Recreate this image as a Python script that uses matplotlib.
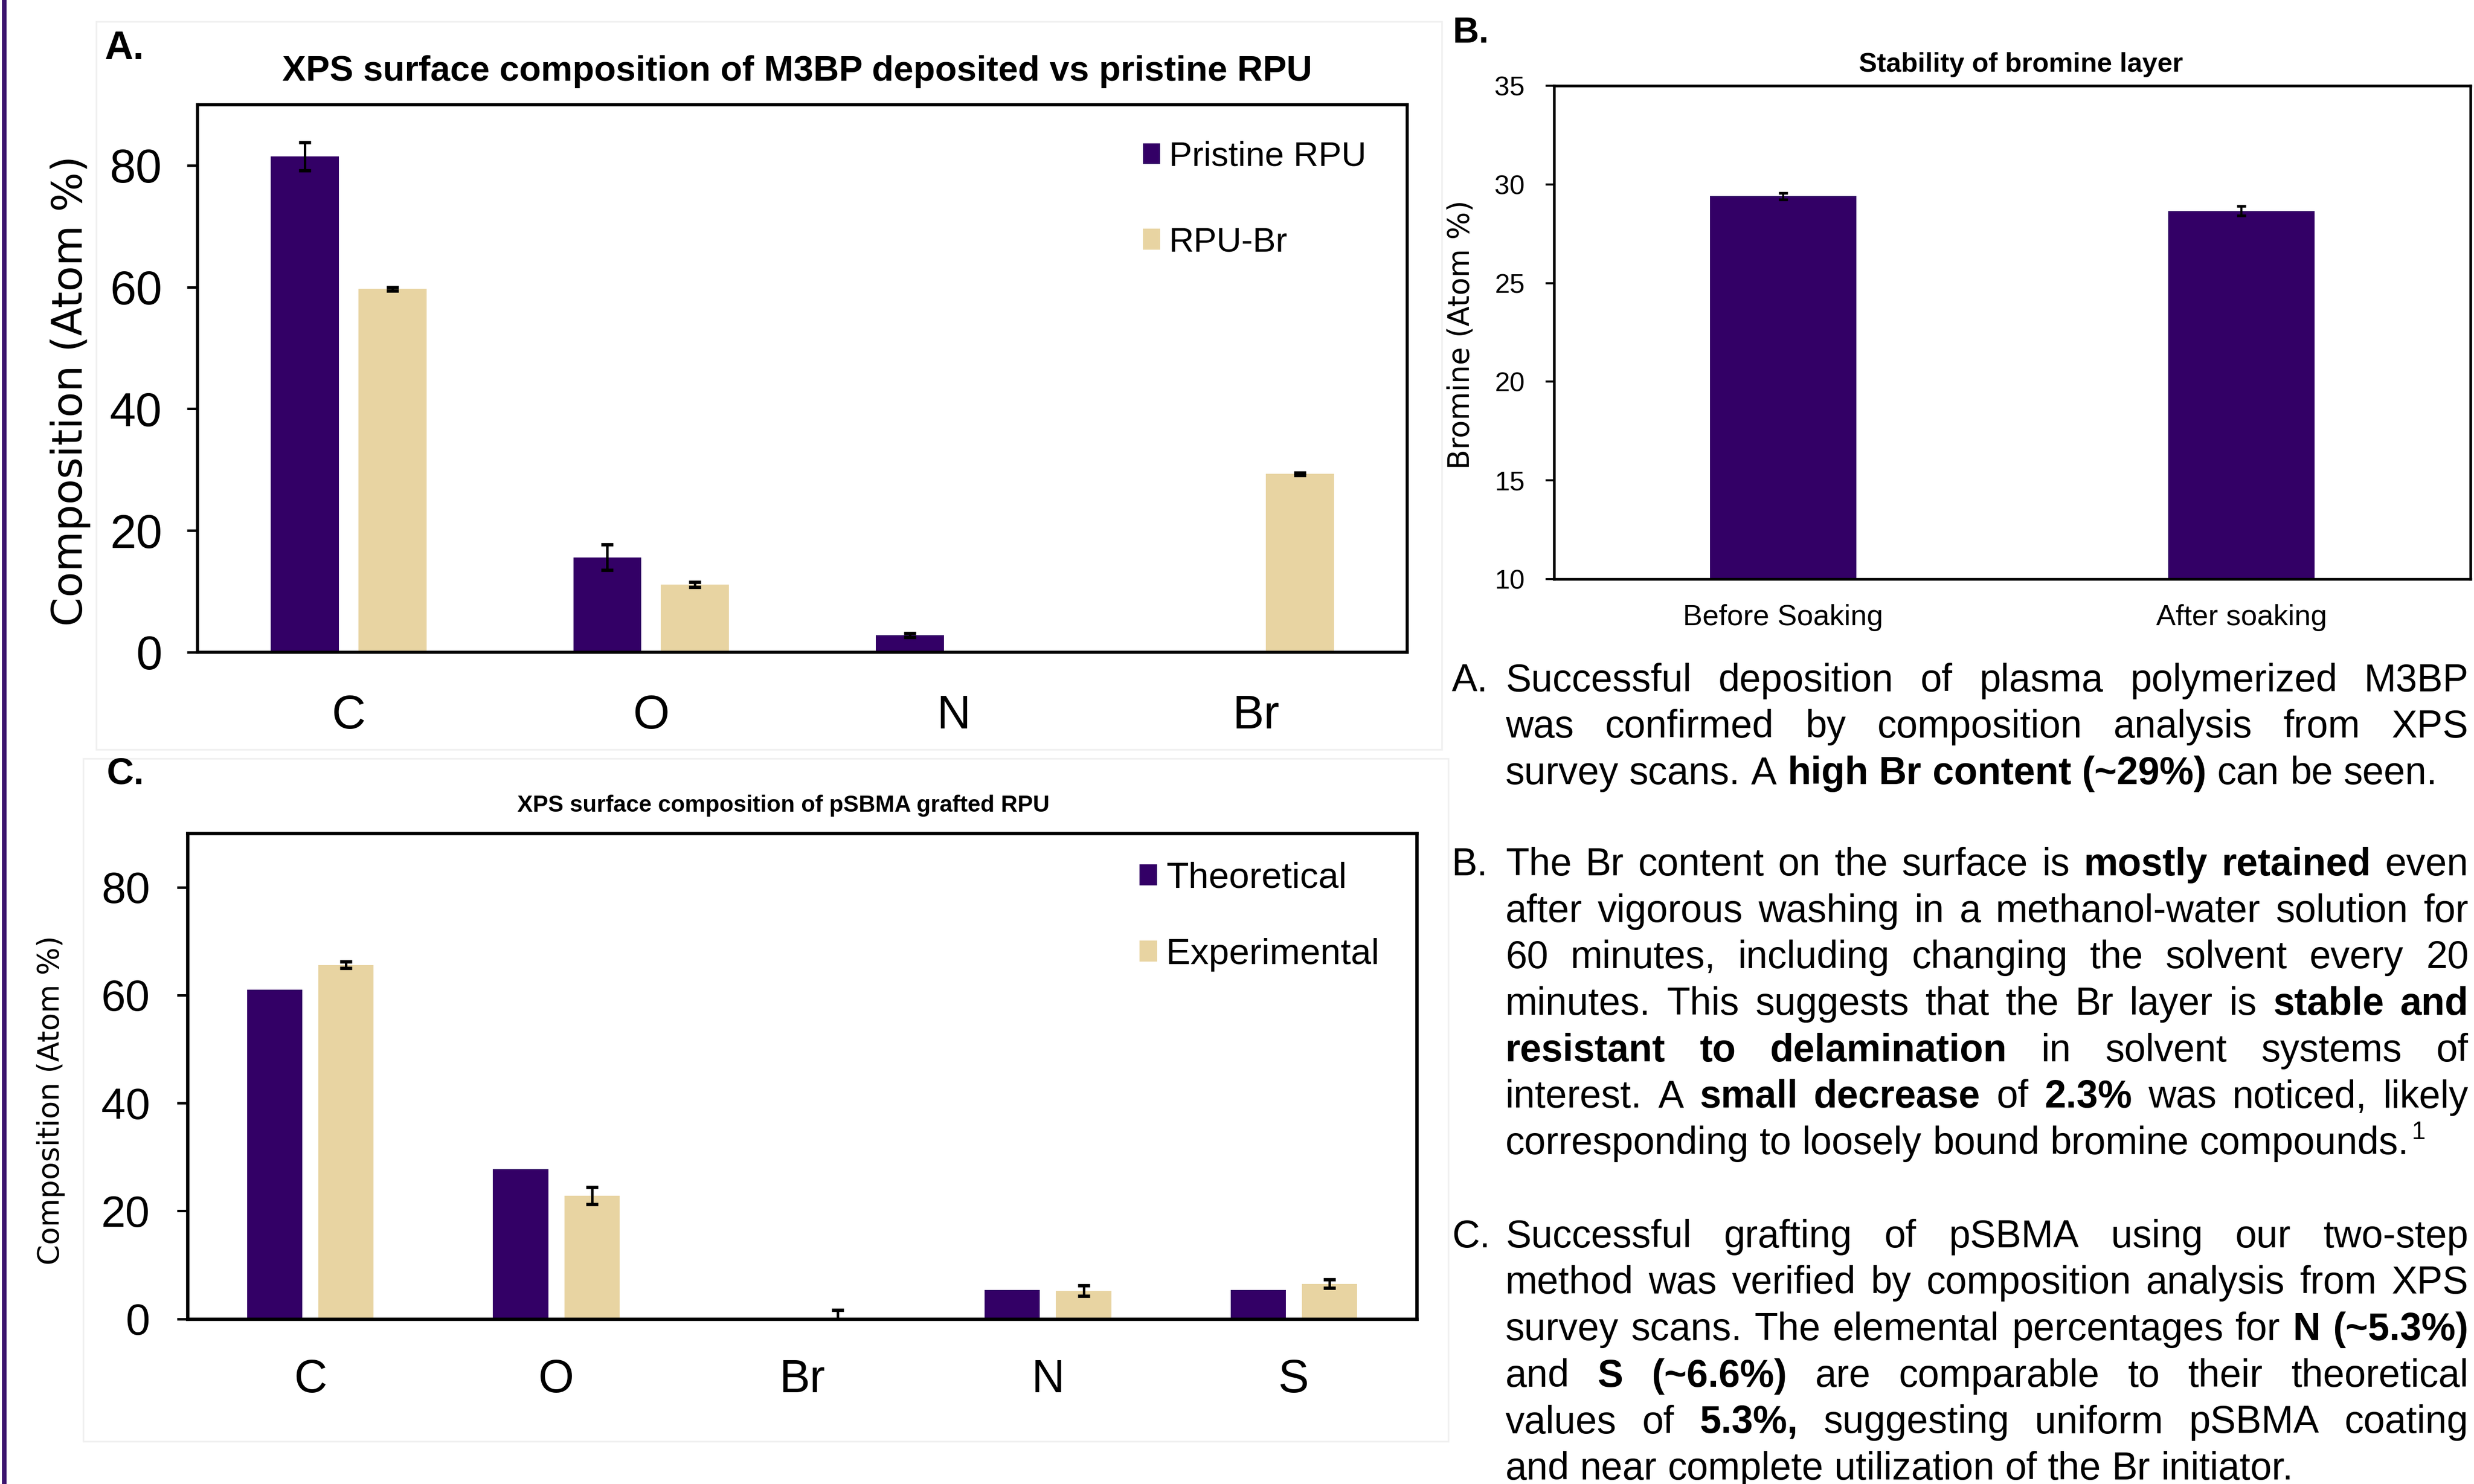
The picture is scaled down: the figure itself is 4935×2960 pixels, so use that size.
import numpy as np
import matplotlib
matplotlib.use('Agg')
import matplotlib.pyplot as plt
from matplotlib.patches import Rectangle
from matplotlib.lines import Line2D

# ---------------- data ----------------
A_categories = ['C', 'O', 'N', 'Br']
A_series = ['Pristine RPU', 'RPU-Br']
A_pristine = [81.5, 15.6, 2.8, 0.0]
A_pristine_err = [2.3, 2.1, 0.3, 0.0]
A_rpubr = [59.7, 11.1, 0.0, 29.3]
A_rpubr_err = [0.3, 0.4, 0.0, 0.2]
A_yticks = [0, 20, 40, 60, 80]

B_categories = ['Before Soaking', 'After soaking']
B_bromine = [29.4, 28.66]
B_bromine_err = [0.17, 0.24]
B_yticks = [10, 15, 20, 25, 30, 35]

C_categories = ['C', 'O', 'Br', 'N', 'S']
C_series = ['Theoretical', 'Experimental']
C_theoretical = [61.0, 27.7, 0.0, 5.3, 5.3]
C_theoretical_err = [0.0, 0.0, 0.0, 0.0, 0.0]
C_experimental = [65.6, 22.8, 0.0, 5.2, 6.5]
C_experimental_err = [0.6, 1.6, 1.6, 1.0, 0.8]
C_yticks = [0, 20, 40, 60, 80]

TITLE_A = 'XPS surface composition of M3BP deposited vs pristine RPU'
TITLE_B = 'Stability of bromine layer'
TITLE_C = 'XPS surface composition of pSBMA grafted RPU'

TEXT_A = ["Successful deposition of plasma polymerized M3BP",
          "was confirmed by composition analysis from XPS",
          "survey scans. A **high Br content (~29%)** can be seen."]
TEXT_B = ["The Br content on the surface is **mostly retained** even",
          "after vigorous washing in a methanol-water solution for",
          "60 minutes, including changing the solvent every 20",
          "minutes. This suggests that the Br layer is **stable and**",
          "**resistant to delamination** in solvent systems of",
          "interest. A **small decrease** of **2.3%** was noticed, likely",
          "corresponding to loosely bound bromine compounds."]
TEXT_C = ["Successful grafting of pSBMA using our two-step",
          "method was verified by composition analysis from XPS",
          "survey scans. The elemental percentages for **N (~5.3%)**",
          "and **S (~6.6%)** are comparable to their theoretical",
          "values of **5.3%,** suggesting uniform pSBMA coating",
          "and near complete utilization of the Br initiator."]

# ---------------- style ----------------
W, H = 4935, 2960
DPI = 300
SANS = 'Liberation Sans'
ROUND = 'DejaVu Sans'
PURPLE = '#330066'
TAN = '#e8d4a2'
plt.rcParams['font.family'] = [SANS, 'DejaVu Sans']

fig = plt.figure(figsize=(W / DPI, H / DPI), dpi=DPI)
fig.patch.set_facecolor('white')


def rect(l, t, r, b):
    return [l / W, 1 - b / H, (r - l) / W, (b - t) / H]


def fx(x):
    return x / W


def fy(y):
    return 1 - y / H


def style_axes(ax, lw):
    for s in ax.spines.values():
        s.set_linewidth(lw)
        s.set_color('black')


def grouped(ax, cats, s1, s2, e1, e2, labels):
    x = np.arange(len(cats))
    w, off = 0.225, 0.145
    ax.bar(x - off, s1, w, color=PURPLE, label=labels[0], zorder=1)
    ax.bar(x + off, s2, w, color=TAN, label=labels[1], zorder=1)
    for xs, v, e in ((x - off, s1, e1), (x + off, s2, e2)):
        v = np.asarray(v, float)
        e = np.asarray(e, float)
        m = e > 0
        if m.any():
            ax.errorbar(xs[m], v[m], yerr=e[m], fmt='none', ecolor='black',
                        elinewidth=1.2, capsize=2.8, capthick=1.6, zorder=3)
    ax.set_xticks(x)
    ax.set_xticklabels(cats)
    ax.set_xlim(-0.5, len(cats) - 0.5)


# ---------------- decorations ----------------
fig.add_artist(Line2D([fx(8), fx(8)], [0, 1], color='#3c146e', lw=2.2,
                      transform=fig.transFigure))
for (l, t, r, b) in [(192, 43, 2876, 1495), (166, 1513, 2889, 2875)]:
    fig.add_artist(Rectangle((fx(l), fy(b)), (r - l) / W, (b - t) / H,
                             transform=fig.transFigure, fill=False,
                             ec='#f0f0f0', lw=0.8))

# ---------------- panel A ----------------
axA = fig.add_axes(rect(394, 208.5, 2807, 1301))
grouped(axA, A_categories, A_pristine, A_rpubr, A_pristine_err, A_rpubr_err, A_series)
axA.set_ylim(0, 90)
axA.set_yticks(A_yticks)
style_axes(axA, 1.5)
axA.tick_params(axis='y', direction='out', length=5, width=1.2, pad=12, labelsize=22.5)
axA.tick_params(axis='x', length=0, pad=20, labelsize=22.5)
axA.set_ylabel('Composition (Atom %)', fontfamily=ROUND, fontsize=20, va='center')
axA.yaxis.set_label_coords(-0.105, 0.477)
axA.set_title(TITLE_A, fontsize=17, fontweight='bold', x=0.4957, y=1.06,
              va='center', pad=0)
axA.legend(loc='upper left', bbox_to_anchor=(0.7816, 0.934), frameon=False,
           fontsize=16.5, handlelength=0.5, handleheight=0.55, handletextpad=0.25,
           labelspacing=1.55, borderpad=0, borderaxespad=0)

# ---------------- panel B ----------------
axB = fig.add_axes(rect(3100, 171, 4928, 1155))
xb = np.arange(len(B_categories))
axB.bar(xb, B_bromine, 0.32, color=PURPLE, zorder=1)
axB.errorbar(xb, B_bromine, yerr=B_bromine_err, fmt='none', ecolor='black',
             elinewidth=1.0, capsize=2.2, capthick=1.3, zorder=3)
axB.set_xticks(xb)
axB.set_xticklabels(B_categories)
axB.set_xlim(-0.5, 1.5)
axB.set_ylim(10, 35)
axB.set_yticks(B_yticks)
style_axes(axB, 1.3)
axB.tick_params(axis='y', direction='out', length=4, width=1.0, pad=10, labelsize=13)
axB.tick_params(axis='x', length=0, pad=12, labelsize=14)
axB.set_ylabel('Bromine (Atom %)', fontfamily=ROUND, fontsize=14, va='center')
axB.yaxis.set_label_coords(-0.102, 0.495)
axB.set_title(TITLE_B, fontsize=13, fontweight='bold',
              x=(4031 - 3100) / 1828, y=1.043, va='center', pad=0)

# ---------------- panel C ----------------
axC = fig.add_axes(rect(374, 1662, 2826, 2630.5))
grouped(axC, C_categories, C_theoretical, C_experimental,
        C_theoretical_err, C_experimental_err, C_series)
axC.set_ylim(0, 90)
axC.set_yticks(C_yticks)
style_axes(axC, 1.6)
axC.tick_params(axis='y', direction='out', length=5, width=1.2, pad=13, labelsize=21)
axC.tick_params(axis='x', length=0, pad=19, labelsize=22)
axC.set_ylabel('Composition (Atom %)', fontfamily=ROUND, fontsize=14, va='center')
axC.yaxis.set_label_coords(-0.111, 0.45)
axC.set_title(TITLE_C, fontsize=11, fontweight='bold', x=0.485, y=1.057,
              va='center', pad=0)
axC.legend(loc='upper left', bbox_to_anchor=(0.7745, 0.9415), frameon=False,
           fontsize=17.5, handlelength=0.48, handleheight=0.5, handletextpad=0.25,
           labelspacing=1.17, borderpad=0, borderaxespad=0)

# ---------------- panel labels ----------------
fig.text(fx(248), fy(97.5), 'A.', fontsize=19, fontweight='bold', ha='center', va='center')
fig.text(fx(2933), fy(66), 'B.', fontsize=17.5, fontweight='bold', ha='center', va='center')
fig.text(fx(250), fy(1544), 'C.', fontsize=18, fontweight='bold', ha='center', va='center')

# ---------------- justified paragraphs ----------------
TXT_SIZE = 18.4
LINE_STEP = 92.7
X_LABEL, X_LEFT, X_RIGHT = 2896, 3003, 4924

fig.canvas.draw()
renderer = fig.canvas.get_renderer()


def width_px(s, bold):
    t = fig.text(0, 0, s, fontsize=TXT_SIZE, fontweight='bold' if bold else 'normal')
    w = t.get_window_extent(renderer).width
    t.remove()
    return w


space_w = width_px('n n', False) - width_px('nn', False)


def tokens(line):
    out = []
    for i, seg in enumerate(line.split('**')):
        for wd in seg.split():
            out.append((wd, i % 2 == 1))
    return out


def paragraph(label, lines, y0, sup=None):
    fig.text(fx(X_LABEL), fy(y0), label, fontsize=TXT_SIZE, va='baseline', ha='left')
    for k, line in enumerate(lines):
        y = y0 + k * LINE_STEP
        toks = tokens(line)
        widths = [width_px(w, b) for w, b in toks]
        last = (k == len(lines) - 1)
        if last or len(toks) < 2:
            gap = space_w
        else:
            gap = (X_RIGHT - X_LEFT - sum(widths)) / (len(toks) - 1)
        x = X_LEFT
        for (wd, b), wpx in zip(toks, widths):
            fig.text(fx(x), fy(y), wd, fontsize=TXT_SIZE,
                     fontweight='bold' if b else 'normal', va='baseline', ha='left')
            x += wpx + gap
        if last and sup:
            fig.text(fx(x - gap + 5), fy(y - 30), sup, fontsize=12,
                     va='baseline', ha='left')


paragraph('A.', TEXT_A, 1378.7)
paragraph('B.', TEXT_B, 1746.0, sup='1')
paragraph('C.', TEXT_C, 2487.7)

fig.savefig('out.png', dpi=DPI, facecolor='white')
